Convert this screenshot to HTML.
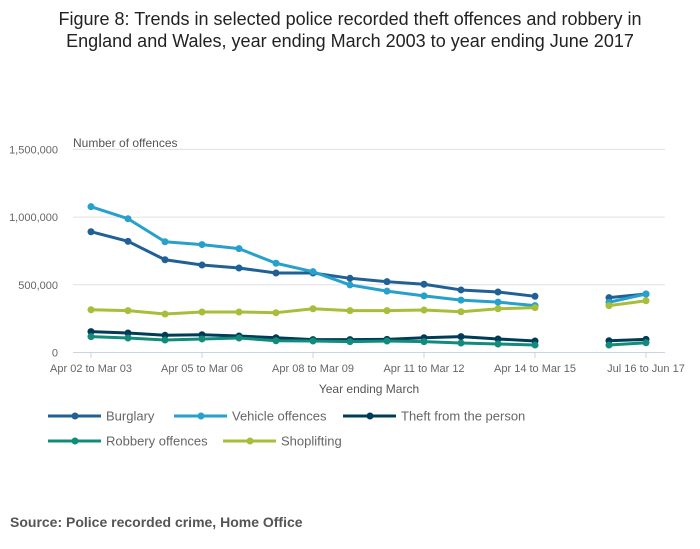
<!DOCTYPE html>
<html><head><meta charset="utf-8"><style>
body{margin:0;background:#fff;width:700px;height:549px;overflow:hidden;font-family:"Liberation Sans",sans-serif}
</style></head><body>
<svg width="700" height="549" style="position:absolute;left:0;top:0;font-family:'Liberation Sans',sans-serif">
<text x="350" y="25" text-anchor="middle" font-size="18" fill="#222">Figure 8: Trends in selected police recorded theft offences and robbery in</text>
<text x="350" y="47" text-anchor="middle" font-size="18" fill="#222">England and Wales, year ending March 2003 to year ending June 2017</text>
<text x="73" y="147" font-size="12" fill="#555">Number of offences</text>
<g id="grid"></g><g id="xaxis"></g><g id="series"></g><g id="legend"></g>
<text x="369" y="393" text-anchor="middle" font-size="12" fill="#555">Year ending March</text>
<text x="10" y="527" font-size="14" font-weight="bold" fill="#555">Source: Police recorded crime, Home Office</text>
</svg>
<script>
const categories=["Apr 02 to Mar 03","Apr 03 to Mar 04","Apr 04 to Mar 05","Apr 05 to Mar 06","Apr 06 to Mar 07","Apr 07 to Mar 08","Apr 08 to Mar 09","Apr 09 to Mar 10","Apr 10 to Mar 11","Apr 11 to Mar 12","Apr 12 to Mar 13","Apr 13 to Mar 14","Apr 14 to Mar 15","","Apr 16 to Mar 17","Jul 16 to Jun 17"];
const tickIdx=[0,3,6,9,12,15];
const yTicks=[0,500000,1000000,1500000];
const yTickLabels=["0","500,000","1,000,000","1,500,000"];
const burglary=[892000,821000,685000,646000,624000,587000,587000,548000,523000,504000,462000,447000,415000,null,405000,432000];
const vehicle=[1077000,988000,818000,797000,767000,659000,597000,499000,453000,418000,387000,372000,346000,null,371000,432000];
const theft=[154000,144000,127000,131000,122000,109000,95000,95000,97000,109000,117000,100000,85000,null,87000,97000];
const robbery=[117000,107000,92000,100000,107000,87000,85000,80000,85000,80000,70000,63000,55000,null,55000,72000];
const shoplifting=[316000,309000,284000,299000,299000,294000,323000,309000,309000,314000,301000,323000,331000,null,346000,382000];
const seriesNames=["Burglary","Vehicle offences","Theft from the person","Robbery offences","Shoplifting"];
const seriesData=[burglary,vehicle,theft,robbery,shoplifting];
const colors=["#206095","#27a0cc","#003c57","#118c7b","#a8bd3a"];
const NS="http://www.w3.org/2000/svg";
const x=i=>91+37*i, y=v=>352.5-v/500000*67.7;
function mk(t,a,p){const e=document.createElementNS(NS,t);for(const k in a)e.setAttribute(k,a[k]);p.appendChild(e);return e;}
const grid=document.getElementById('grid');
yTicks.forEach((v,i)=>{
 if(i>0){const l=mk('line',{x1:73,x2:665,y1:y(v),y2:y(v),stroke:'#e0e0e0','stroke-width':1},grid);
 
 }
 const t=mk('text',{x:58,y:y(v)+4,'text-anchor':'end','font-size':11,fill:'#666'},grid);t.textContent=yTickLabels[i];
 
 
});
const xa=document.getElementById('xaxis');
const ax=mk('line',{x1:73,x2:665,y1:352.5,y2:352.5,stroke:'#c8d3e6','stroke-width':1},xa);


tickIdx.forEach(i=>{
 mk('line',{x1:x(i),x2:x(i),y1:352.5,y2:358,stroke:'#c8d3e6'},xa);
 const t=mk('text',{x:x(i),y:372,'text-anchor':'middle','font-size':11,fill:'#666'},xa);t.textContent=categories[i];
 
 
});
const sg=document.getElementById('series');
seriesData.forEach((d,s)=>{
 const g=mk('g',{},sg);
 
 
 let p='',pen=false;
 d.forEach((v,i)=>{if(v==null){pen=false;return;}p+=(pen?'L':'M')+x(i)+','+y(v);pen=true;});
 mk('path',{d:p,fill:'none',stroke:colors[s],'stroke-width':3,'stroke-linejoin':'round'},g);
 d.forEach((v,i)=>{if(v==null)return;const c=mk('circle',{cx:x(i),cy:y(v),r:3.5,fill:colors[s]},g);
  
  });
});
const lg=document.getElementById('legend');
const lpos=[[48,416],[174,416],[343,416],[48,441],[223,441]];
seriesNames.forEach((n,s)=>{
 const g=mk('g',{},lg);
 
 
 const [lx,ly]=lpos[s];
 mk('line',{x1:lx,x2:lx+53,y1:ly,y2:ly,stroke:colors[s],'stroke-width':3},g);
 mk('circle',{cx:lx+27,cy:ly,r:3.5,fill:colors[s]},g);
 const t=mk('text',{x:lx+58,y:ly+4.5,'font-size':13,fill:'#666'},g);t.textContent=n;
});
</script>
</body></html>
